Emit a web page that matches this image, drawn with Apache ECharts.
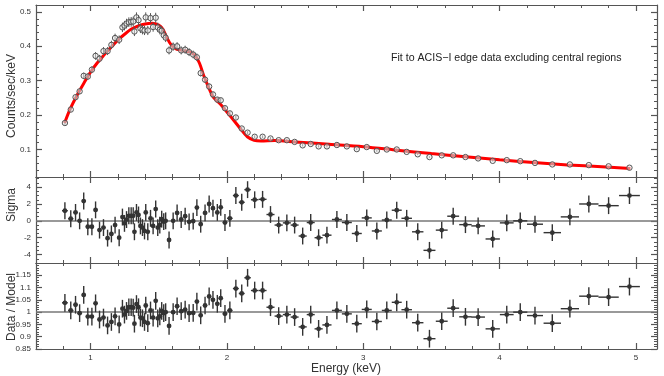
<!DOCTYPE html>
<html><head><meta charset="utf-8">
<script src="https://cdn.jsdelivr.net/npm/echarts@6/dist/echarts.min.js"></script>
<style>html,body{margin:0;padding:0;background:#fff}#c{width:664px;height:376px}</style>
</head><body><div id="c"></div>
<script>
// ---- data ----
const energy = [0.812,0.855,0.89,0.92,0.95,0.98,1.01,1.037,1.066,1.095,1.125,1.153,1.18,1.21,
 1.234,1.249,1.264,1.281,1.298,1.313,1.322,1.337,1.352,1.366,1.381,1.396,1.405,1.42,1.44,1.459,1.478,1.493,1.508,1.522,1.537,1.551,
 1.576,1.606,1.635,1.665,1.694,1.723,1.753,1.78,1.808,1.84,1.87,1.898,1.93,1.955,1.986,2.022,2.066,2.109,2.152,
 2.204,2.262,2.32,2.38,2.44,2.497,2.556,2.615,2.673,2.734,2.807,2.88,2.953,3.026,3.10,3.173,3.246,3.319,3.40,3.486,3.576,3.66,3.75,3.843,3.95,4.053,4.152,4.26,4.387,4.516,4.655,4.80,4.953];
const counts = [0.177,0.216,0.252,0.269,0.314,0.312,0.332,0.372,0.364,0.386,0.386,0.404,0.424,0.419,
 0.455,0.460,0.466,0.470,0.471,0.472,0.443,0.484,0.476,0.452,0.448,0.446,0.484,0.446,0.482,0.456,0.483,0.455,0.448,0.445,0.432,0.425,
 0.388,0.399,0.400,0.388,0.390,0.383,0.376,0.368,0.322,0.303,0.283,0.260,0.245,0.243,0.220,0.205,0.193,0.161,0.149,
 0.137,0.137,0.132,0.127,0.127,0.122,0.112,0.116,0.109,0.109,0.113,0.109,0.101,0.107,0.096,0.100,0.100,0.093,0.086,0.078,0.083,0.083,0.078,0.074,0.067,0.069,0.066,0.061,0.0565,0.0565,0.0545,0.051,0.047];
const sigma = [1.2,0.25,1.0,0.0,2.35,-0.7,-0.7,1.3,-1.1,-0.8,-2.05,-1.55,-0.5,-2.0,
 0.45,-0.3,0.15,0.6,0.6,0.6,-1.3,1.0,0.7,-0.6,-0.8,-1.2,1.0,-1.3,0.3,-0.6,1.4,-0.8,-0.5,0.2,-0.1,0.0,
 -2.27,0.0,0.94,0.16,0.55,-0.12,-0.04,1.57,-0.4,0.94,2.0,1.5,1.0,1.6,-0.2,0.3,3.0,2.2,3.7,
 2.5,2.55,0.75,-0.5,-0.24,-0.5,-1.8,-0.2,-2.0,-1.7,0.16,-0.2,-1.5,0.35,-1.2,0.1,1.26,0.3,-1.3,-3.5,-1.1,0.55,-0.45,-0.6,-2.15,-0.24,0.0,-0.4,-1.4,0.47,2.0,1.8,3.0];
const ratio = [1.038,1.007,1.03,0.996,1.07,0.982,0.982,1.036,0.97,0.978,0.946,0.96,0.983,0.95,
 1.014,0.99,1.005,1.02,1.02,1.018,0.953,1.033,1.02,0.978,0.975,0.96,1.027,0.955,1.007,0.978,1.046,0.975,0.983,1.005,0.996,1.0,
 0.944,1.0,1.024,1.004,1.01,0.996,0.997,1.043,0.987,1.027,1.064,1.05,1.034,1.057,0.993,1.007,1.096,1.076,1.14,
 1.088,1.088,1.02,0.984,0.99,0.98,0.94,0.99,0.932,0.948,1.007,0.993,0.953,1.011,0.962,1.007,1.04,1.01,0.957,0.892,0.963,1.016,0.981,0.98,0.932,0.99,1.0,0.986,0.955,1.014,1.065,1.061,1.104];
const modelE = [0.81,0.85,0.90,0.95,1.0,1.05,1.1,1.15,1.2,1.25,1.3,1.35,1.4,1.45,1.5,1.53,1.56,1.59,1.63,1.68,1.73,1.77,1.8,1.83,1.87,1.9,1.95,2.0,2.05,2.1,2.15,2.2,2.25,2.35,2.5,2.75,3.0,3.25,3.5,3.75,4.0,4.25,4.5,4.75,4.96];
const modelV = [0.177,0.217,0.257,0.292,0.325,0.352,0.375,0.397,0.418,0.435,0.450,0.459,0.465,0.467,0.462,0.450,0.425,0.405,0.392,0.388,0.383,0.372,0.350,0.315,0.277,0.252,0.233,0.209,0.185,0.160,0.137,0.127,0.125,0.126,0.122,0.115,0.108,0.098,0.088,0.079,0.070,0.062,0.055,0.050,0.045];
const sigmaErr = 1.0;
const ratioErr = 0.036;
const xTicks = [1,2,3,4,5];
const countsTicks = [0.1,0.2,0.3,0.4,0.5];
const sigmaTicks = [-4,-2,0,2,4];
const ratioTicks = [0.85,0.9,0.95,1,1.05,1.1,1.15];
const titleText = 'Fit to ACIS\u2212I edge data excluding central regions';

// ---- helpers ----
function steps(a, b, s) { const out = []; for (let k = Math.round(a / s); k * s <= b + 1e-9; k++) out.push(+(k * s).toFixed(4)); return out; }
const xMinor = steps(0.6, 5.15, 0.2);
const cMinor = steps(0.02, 0.52, 0.02);
const sMinor = steps(-5, 5.2, 0.5);
const rMinor = steps(0.85, 1.2, 0.01);

const halfW = energy.map((e, i) => {
  const lo = i > 0 ? (e - energy[i - 1]) / 2 : (energy[1] - energy[0]) / 2;
  const hi = i < energy.length - 1 ? (energy[i + 1] - e) / 2 : (e - energy[i - 1]) / 2;
  return (lo + hi) / 2;
});

const AX = '#555';
const FONT = 'Liberation Sans, Arial, Helvetica, sans-serif';
const X0 = 0.6, X1 = 5.155;
const grids = [
  {left: 36, right: 7, top: 5, height: 172, y: [0.02, 0.52], major: countsTicks, minor: cMinor},
  {left: 36, right: 7, top: 177, height: 86, y: [-5, 5.2], major: sigmaTicks, minor: sMinor},
  {left: 36, right: 7, top: 263, height: 86, y: [0.85, 1.2], major: ratioTicks, minor: rMinor}
];
const xAxis = [], yAxis = [];
grids.forEach((g, gi) => {
  ['bottom', 'top'].forEach(pos => {
    xAxis.push({type: 'value', gridIndex: gi, position: pos, min: X0, max: X1,
      axisLine: {show: true, onZero: false, lineStyle: {color: AX, width: 1.2}},
      axisTick: {show: true, inside: true, length: 6, customValues: xTicks, lineStyle: {color: AX, width: 1.2}},
      axisLabel: {show: gi === 2 && pos === 'bottom', customValues: xTicks, fontSize: 8, color: '#333', margin: 5, fontFamily: FONT},
      splitLine: {show: false}});
    xAxis.push({type: 'value', gridIndex: gi, position: pos, min: X0, max: X1,
      axisLine: {show: false, onZero: false},
      axisTick: {show: true, inside: true, length: 3, customValues: xMinor, lineStyle: {color: AX, width: 1}},
      axisLabel: {show: false}, splitLine: {show: false}});
  });
  ['left', 'right'].forEach(pos => {
    yAxis.push({type: 'value', gridIndex: gi, position: pos, min: g.y[0], max: g.y[1],
      axisLine: {show: true, onZero: false, lineStyle: {color: AX, width: 1.2}},
      axisTick: {show: true, inside: true, length: 6, customValues: g.major, lineStyle: {color: AX, width: 1.2}},
      axisLabel: {show: pos === 'left', customValues: g.major, fontSize: 8, color: '#333', margin: 5, fontFamily: FONT},
      splitLine: {show: false}});
    yAxis.push({type: 'value', gridIndex: gi, position: pos, min: g.y[0], max: g.y[1],
      axisLine: {show: false, onZero: false},
      axisTick: {show: true, inside: true, length: 3, customValues: g.minor, lineStyle: {color: AX, width: 1}},
      axisLabel: {show: false}, splitLine: {show: false}});
  });
});

function errSeries(gi, vals, yerr, hollow, mark) {
  const data = energy.map((e, i) => [e, vals[i], halfW[i], typeof yerr === 'function' ? yerr(i) : yerr]);
  const s = {
    type: 'custom', xAxisIndex: gi * 4, yAxisIndex: gi * 4, clip: true, z: 5,
    encode: {x: 0, y: 1},
    renderItem: function (params, api) {
      const x = api.value(0), y = api.value(1), xe = api.value(2), ye = api.value(3);
      const c = api.coord([x, y]);
      const l = api.coord([x - xe, y]), r = api.coord([x + xe, y]);
      const t = api.coord([x, y + ye]), b = api.coord([x, y - ye]);
      const ch = [];
      if (hollow) {
        ch.push({type: 'line', shape: {x1: t[0], y1: t[1], x2: b[0], y2: b[1]}, style: {stroke: '#555', lineWidth: 1}});
        ch.push({type: 'circle', shape: {cx: c[0], cy: c[1], r: 2.7}, style: {fill: 'rgba(235,235,235,0.5)', stroke: '#555', lineWidth: 1}});
      } else {
        ch.push({type: 'line', shape: {x1: l[0], y1: l[1], x2: r[0], y2: r[1]}, style: {stroke: '#333', lineWidth: 1.4}});
        ch.push({type: 'line', shape: {x1: t[0], y1: t[1], x2: b[0], y2: b[1]}, style: {stroke: '#333', lineWidth: 1.4}});
        ch.push({type: 'circle', shape: {cx: c[0], cy: c[1], r: 2.4}, style: {fill: '#333'}});
      }
      return {type: 'group', children: ch};
    },
    data: data
  };
  if (mark !== undefined) {
    s.markLine = {silent: true, symbol: 'none', label: {show: false}, z: 3,
      lineStyle: {color: '#777', width: 1.5, type: 'solid'}, data: [{yAxis: mark}]};
  }
  return s;
}

const option = {
  animation: false,
  backgroundColor: '#fff',
  grid: grids.map(g => ({left: g.left, right: g.right, top: g.top, height: g.height})),
  xAxis: xAxis,
  yAxis: yAxis,
  series: [
    {type: 'line', xAxisIndex: 0, yAxisIndex: 0, showSymbol: false, smooth: 0.3, z: 4,
      data: modelE.map((e, i) => [e, modelV[i]]), lineStyle: {color: '#ff0000', width: 3}},
    errSeries(0, counts, i => counts[i] * 0.03, true),
    errSeries(1, sigma, sigmaErr, false, 0),
    errSeries(2, ratio, ratioErr, false, 1)
  ],
  graphic: [
    {type: 'text', left: 391, top: 53, style: {text: titleText, font: '10.6px ' + FONT, fill: '#222'}},
    {type: 'text', x: 12, y: 96, rotation: Math.PI / 2, style: {text: 'Counts/sec/keV', font: '12px ' + FONT, fill: '#333', align: 'center', verticalAlign: 'middle'}},
    {type: 'text', x: 12, y: 205, rotation: Math.PI / 2, style: {text: 'Sigma', font: '12px ' + FONT, fill: '#333', align: 'center', verticalAlign: 'middle'}},
    {type: 'text', x: 12, y: 307, rotation: Math.PI / 2, style: {text: 'Data / Model', font: '12px ' + FONT, fill: '#333', align: 'center', verticalAlign: 'middle'}},
    {type: 'text', x: 346, y: 369, style: {text: 'Energy (keV)', font: '12px ' + FONT, fill: '#333', align: 'center', verticalAlign: 'middle'}}
  ]
};
echarts.init(document.getElementById('c'), null, {renderer: 'canvas'}).setOption(option);
</script>
</body></html>
